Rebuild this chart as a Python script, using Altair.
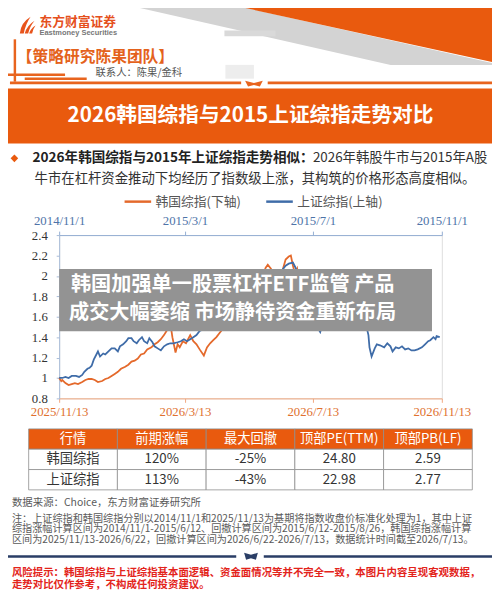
import re
import altair as alt
import pandas as pd

# ------------------------------------------------------------------ data
kr_dates = ["2025/11/13","2025/11/15","2025/11/16","2025/11/19","2025/11/22","2025/11/25","2025/11/28",
            "2025/12/1","2025/12/5","2025/12/8","2025/12/11","2025/12/14","2025/12/17","2025/12/20",
            "2025/12/24","2025/12/27","2025/12/30","2026/1/2","2026/1/5","2026/1/8","2026/1/11",
            "2026/1/15","2026/1/18","2026/1/21","2026/1/24","2026/1/27","2026/1/30","2026/2/2",
            "2026/2/5","2026/2/9","2026/2/12","2026/2/15","2026/2/18","2026/2/21","2026/2/24",
            "2026/2/26","2026/2/28","2026/3/1","2026/3/4","2026/3/6","2026/3/8","2026/3/11",
            "2026/3/14","2026/3/18","2026/3/21","2026/3/24","2026/3/27","2026/3/31","2026/4/3",
            "2026/4/6","2026/4/9","2026/4/12","2026/4/15","2026/4/18","2026/4/22","2026/4/25",
            "2026/4/28","2026/5/1","2026/5/4","2026/5/7","2026/5/10","2026/5/13","2026/5/17",
            "2026/5/20","2026/5/23","2026/5/26","2026/5/29","2026/5/31","2026/6/3","2026/6/7",
            "2026/6/10","2026/6/12","2026/6/14","2026/6/17","2026/6/20","2026/6/22","2026/6/24",
            "2026/6/26","2026/6/28","2026/6/30","2026/7/4","2026/7/7","2026/7/10","2026/7/13"]
kr_values = [1.00,0.97,0.98,0.95,0.93,0.94,0.95,0.94,0.96,0.98,0.99,0.99,0.98,0.96,0.97,0.99,1.00,
             1.02,1.04,1.06,1.09,1.11,1.13,1.16,1.17,1.19,1.23,1.24,1.28,1.30,1.33,1.35,1.38,1.42,
             1.47,1.52,1.47,1.40,1.25,1.33,1.30,1.36,1.34,1.42,1.36,1.33,1.28,1.22,1.30,1.34,1.37,
             1.40,1.44,1.48,1.54,1.58,1.63,1.70,1.75,1.82,1.85,1.80,1.84,1.90,1.95,2.00,2.08,2.11,
             2.07,1.97,1.81,1.92,2.05,2.16,2.19,2.20,2.10,2.02,2.07,1.95,1.85,1.80,1.72,1.65]

sh_dates = ["2014/11/1","2014/11/4","2014/11/7","2014/11/10","2014/11/13","2014/11/17","2014/11/20",
            "2014/11/23","2014/11/25","2014/11/28","2014/11/30","2014/12/2","2014/12/4","2014/12/7",
            "2014/12/8","2014/12/10","2014/12/13","2014/12/15","2014/12/18","2014/12/21","2014/12/24",
            "2014/12/27","2014/12/29","2015/1/1","2015/1/4","2015/1/6","2015/1/9","2015/1/11",
            "2015/1/14","2015/1/16","2015/1/19","2015/1/21","2015/1/24","2015/1/26","2015/1/29",
            "2015/1/31","2015/2/3","2015/2/6","2015/2/9","2015/2/12","2015/2/15","2015/2/18",
            "2015/2/22","2015/2/25","2015/2/28","2015/3/3","2015/3/6","2015/3/9","2015/3/12",
            "2015/3/15","2015/3/19","2015/3/22","2015/3/25","2015/3/28","2015/3/31","2015/4/6",
            "2015/4/13","2015/4/19","2015/4/25","2015/5/1","2015/5/8","2015/5/14","2015/5/20",
            "2015/5/25","2015/5/29","2015/6/2","2015/6/5","2015/6/8","2015/6/12","2015/6/14",
            "2015/6/17","2015/6/19","2015/6/22","2015/6/25","2015/6/28","2015/7/1","2015/7/4",
            "2015/7/8","2015/7/11","2015/7/15","2015/7/20","2015/7/25","2015/7/28","2015/7/31",
            "2015/8/3","2015/8/8","2015/8/13","2015/8/17","2015/8/20","2015/8/23","2015/8/24",
            "2015/8/26","2015/8/29","2015/8/31","2015/9/3","2015/9/7","2015/9/10","2015/9/13",
            "2015/9/15","2015/9/18","2015/9/21","2015/9/24","2015/9/27","2015/9/30","2015/10/3",
            "2015/10/6","2015/10/9","2015/10/13","2015/10/16","2015/10/19","2015/10/21",
            "2015/10/24","2015/10/26","2015/10/27","2015/10/30"]
sh_values = [1.00,1.00,1.01,1.00,1.02,1.02,1.01,1.03,1.06,1.09,1.10,1.12,1.18,1.24,1.26,1.21,1.24,
             1.23,1.26,1.29,1.29,1.26,1.31,1.33,1.36,1.39,1.39,1.36,1.34,1.37,1.40,1.36,1.34,1.39,
             1.35,1.31,1.29,1.27,1.31,1.33,1.34,1.34,1.35,1.36,1.38,1.36,1.38,1.40,1.42,1.46,1.48,
             1.50,1.52,1.54,1.56,1.62,1.70,1.76,1.82,1.86,1.80,1.90,1.98,2.03,1.98,2.06,2.10,2.12,
             2.13,2.09,2.02,1.94,1.85,1.78,1.70,1.62,1.52,1.45,1.55,1.60,1.58,1.55,1.53,1.50,1.54,
             1.57,1.62,1.65,1.55,1.42,1.30,1.21,1.29,1.33,1.32,1.30,1.34,1.31,1.26,1.30,1.29,1.31,
             1.28,1.29,1.27,1.27,1.28,1.30,1.33,1.36,1.37,1.40,1.38,1.41,1.40]

series_names = ["韩国综指(下轴)", "上证综指(上轴)"]
y_ticks = [0.8, 1.0, 1.2, 1.4, 1.6, 1.8, 2.0, 2.2, 2.4]
kr_ticks = [(2025, 11, 13), (2026, 3, 13), (2026, 7, 13), (2026, 11, 13)]
sh_ticks = [(2014, 11, 1), (2015, 3, 1), (2015, 7, 1), (2015, 11, 1)]

table_columns = ["行情", "前期涨幅", "最大回撤", "顶部PE(TTM)", "顶部PB(LF)"]
table_rows = ["韩国综指", "上证综指"]
rise = ["120%", "113%"]
drawdown = ["-25%", "-43%"]
top_pe = ["24.80", "22.98"]
top_pb = ["2.59", "2.77"]

title_text = "2026韩国综指与2015上证综指走势对比"
bullet_bold = "2026年韩国综指与2015年上证综指走势相似："
bullet_rest = "2026年韩股牛市与2015年A股"
bullet_line2 = "牛市在杠杆资金推动下均经历了指数级上涨，其构筑的价格形态高度相似。"
overlay_lines = ["韩国加强单一股票杠杆ETF监管 产品", "成交大幅萎缩 市场静待资金重新布局"]
source_text = "数据来源：Choice，东方财富证券研究所"
note_lines = ["注：上证综指和韩国综指分别以2014/11/1和2025/11/13为基期将指数收盘价标准化处理为1，其中上证",
              "综指涨幅计算区间为2014/11/1-2015/6/12、回撤计算区间为2015/6/12-2015/8/26，韩国综指涨幅计算",
              "区间为2025/11/13-2026/6/22，回撤计算区间为2026/6/22-2026/7/13，数据统计时间截至2026/7/13。"]
risk_lines = ["风险提示：韩国综指与上证综指基本面逻辑、资金面情况等并不完全一致，本图片内容呈现客观数据，",
              "走势对比仅作参考，不构成任何投资建议。"]

# ------------------------------------------------------------------ style
CJK = "Noto Sans CJK SC"
SERIF = "Liberation Serif"
ORANGE = "#E95A0E"
KR_COLOR = "#E4692B"
SH_COLOR = "#3F6CA8"
OX, OY = 60, 234          # plot origin in page pixels
W, H = 389, 166


def px(x):
    return x - OX


def py(y):
    return y - OY


one = pd.DataFrame({"k": [0]})


def text(t, x, y, size, color, weight="normal", align="left", font=CJK):
    return alt.Chart(one).mark_text(text=t, fontSize=size, color=color, fontWeight=weight,
                                    align=align, baseline="middle", font=font).encode(
        x=alt.value(px(x)), y=alt.value(py(y)))


def rect(x1, y1, x2, y2, color):
    return alt.Chart(one).mark_rect(color=color).encode(
        x=alt.value(px(x1)), x2=alt.value(px(x2)), y=alt.value(py(y1)), y2=alt.value(py(y2)))


def rule(x1, y1, x2, y2, color, w):
    return alt.Chart(one).mark_rule(color=color, strokeWidth=w).encode(
        x=alt.value(px(x1)), x2=alt.value(px(x2)), y=alt.value(py(y1)), y2=alt.value(py(y2)))


def shape(d, color):
    # path given in page pixels -> shift to plot-origin coordinates (size=4 => scale 1)
    def sub(m):
        return f"{float(m.group(1)) - OX:.1f},{float(m.group(2)) - OY:.1f}"
    d2 = re.sub(r"(-?\d+\.?\d*),(-?\d+\.?\d*)", sub, d)
    return alt.Chart(one).mark_point(shape=d2, size=4, filled=True, color=color, opacity=1,
                                     strokeWidth=0).encode(x=alt.value(0), y=alt.value(0))


def dt(t):
    return alt.DateTime(year=t[0], month=t[1], date=t[2])


# ------------------------------------------------------------------ line chart
kr_df = pd.DataFrame({"date": kr_dates, "value": kr_values, "series": series_names[0]})
sh_df = pd.DataFrame({"date": sh_dates, "value": sh_values, "series": series_names[1]})

color = alt.Color("series:N", scale=alt.Scale(domain=series_names, range=[KR_COLOR, SH_COLOR]),
                  legend=alt.Legend(orient="none", legendX=65, legendY=-49, direction="horizontal",
                                    title=None, symbolType="stroke", symbolSize=729,
                                    symbolStrokeWidth=2.5, labelFont=CJK, labelFontSize=13,
                                    labelColor="#555555", labelOffset=3, columnPadding=20,
                                    padding=0))

yenc = alt.Y("value:Q", scale=alt.Scale(domain=[0.8, 2.4], nice=False, zero=False),
             axis=alt.Axis(values=y_ticks, format="~g", labelFont=SERIF, labelFontSize=13,
                           labelColor="#333333", domainColor="#A8BCD8", tickColor="#A8BCD8",
                           tickSize=3, labelPadding=9, grid=False, title=None))

kr = alt.Chart(kr_df).mark_line(strokeWidth=1.8).encode(
    x=alt.X("date:T", scale=alt.Scale(domain=[dt(kr_ticks[0]), dt(kr_ticks[-1])]),
            axis=alt.Axis(orient="bottom", values=[dt(t) for t in kr_ticks], format="%Y/%-m/%-d",
                          labelFont=SERIF, labelFontSize=13, labelColor="#E0702E",
                          domainColor="#F2A77E", tickColor="#F2A77E", tickSize=4, labelPadding=3,
                          grid=False, title=None, labelFlush=False, labelOverlap=False)),
    y=yenc, color=color)

sh = alt.Chart(sh_df).mark_line(strokeWidth=1.8).encode(
    x=alt.X("date:T", scale=alt.Scale(domain=[dt(sh_ticks[0]), dt(sh_ticks[-1])]),
            axis=alt.Axis(orient="top", values=[dt(t) for t in sh_ticks], format="%Y/%-m/%-d",
                          labelFont=SERIF, labelFontSize=13, labelColor="#4E73A8",
                          domainColor="#93ADD2", tickColor="#93ADD2", tickSize=4, labelPadding=4,
                          grid=False, title=None, labelFlush=False, labelOverlap=False)),
    y=yenc, color=color)

lines = alt.layer(kr, sh).resolve_scale(x="independent")

# ------------------------------------------------------------------ table
row_keys = [table_columns[0]] + table_rows
records = [{"r": table_columns[0], "c": c, "t": c, "kind": "head"} for c in table_columns]
for i, name in enumerate(table_rows):
    vals = [name, rise[i], drawdown[i], top_pe[i], top_pb[i]]
    for c, v in zip(table_columns, vals):
        records.append({"r": name, "c": c, "t": v, "kind": "body"})
tdf = pd.DataFrame(records)

tx = alt.X("c:N", scale=alt.Scale(domain=table_columns, range=[px(29), px(480)],
                                  paddingInner=0, paddingOuter=0), axis=None)
ty = alt.Y("r:N", scale=alt.Scale(domain=row_keys, range=[py(431), py(493)],
                                  paddingInner=0, paddingOuter=0), axis=None)
is_head = "datum.kind == 'head'"
cells = alt.Chart(tdf).mark_rect(stroke="#8E8E8E", strokeWidth=0.8).encode(
    x=tx, y=ty, fill=alt.condition(is_head, alt.value(ORANGE), alt.value("white")))
cell_text = alt.Chart(tdf).mark_text(font=CJK, fontSize=13.5).encode(
    x=tx, y=ty, text="t:N",
    color=alt.condition(is_head, alt.value("white"), alt.value("#333333")))
table = alt.layer(cells, cell_text)

# ------------------------------------------------------------------ decoration / text
deco = [
    shape("M137,2 L245,2 L500,59 L500,61 L397,61 Z", "#D3D3D3"),
    shape("M244,2 L500,2 L500,58 Z", ORANGE),
    rect(228, 26, 280, 32, "#D9D9D9"),
    rect(229, 61, 258, 75, "#EDEDED"),
    shape("M20,29 Q21,18 31,12 Q26,19 24,29 Z", "#E8541C"),
    shape("M25,29 Q27,21 35,16 Q30,22 28.5,29 Z", "#E8541C"),
    shape("M29.5,29 Q31,24 36,21 Q33,25 32.5,29 Z", "#E8541C"),
    text("东方财富证券", 40, 17, 13, "#E5501C", weight="bold"),
    text("Eastmoney Securities", 40, 28.5, 7.6, "#777777", weight="bold", font="Liberation Sans"),
    rule(15, 35, 15, 78, "#E8641E", 2.5),
    rule(3, 71, 66, 71, "#E8641E", 2.5),
    rule(25, 75, 88, 75, "#E8641E", 2.5),
    rule(10, 79.3, 245, 79.3, "#E8641E", 3),
    rule(272, 79.3, 500, 79.3, "#E8641E", 3),
    shape("M249,77 L258,79.5 L267,77 L264,83 L258,81.5 L252,83 Z", "#E8641E"),
    text("【策略研究陈果团队】", 17, 53, 16, "#E4621C", weight="bold"),
    text("联系人：陈果/金科", 97, 69.5, 10.5, "#555555"),
    rect(0, 85, 500, 141, ORANGE),
    text(title_text, 254.5, 113.5, 21, "white", weight="bold", align="center"),
    alt.Chart(one).mark_point(shape="diamond", size=60, filled=True, color=ORANGE, opacity=1).encode(
        x=alt.value(px(14.5)), y=alt.value(py(156))),
    text(bullet_bold, 33, 156, 13.8, "#222222", weight="bold"),
    text(bullet_rest, 318, 156, 13.6, "#333333"),
    text(bullet_line2, 35, 177, 13.6, "#333333"),
]

overlay = [
    rect(60, 268.5, 439, 331.7, "#939393"),
    text(overlay_lines[0], 72, 285, 20.5, "white", weight="bold"),
    text(overlay_lines[1], 70, 313, 20.5, "white", weight="bold"),
]

notes = [text(source_text, 12, 506, 10.6, "#5A5A5A")]
for k, line in enumerate(note_lines):
    notes.append(text(line, 12, 522.5 + 10.8 * k, 10.3, "#5A5A5A"))
notes += [
    rule(0, 560.7, 240, 560.7, "#2A3E66", 2.5),
    rule(268, 560.7, 500, 560.7, "#2A3E66", 2.5),
    shape("M248,557 L255,559 L262,557 L260,564 L255,562.5 L250,564 Z", "#2A3E66"),
]
for k, line in enumerate(risk_lines):
    notes.append(text(line, 12, 577.3 + 12.2 * k, 10.6, "#E3241B", weight="bold"))

chart = alt.layer(*deco, lines, table, *overlay, *notes).resolve_scale(
    x="independent", y="independent"
).properties(
    width=W, height=H,
    padding={"left": 52, "top": 226, "right": 51, "bottom": 193},
    autosize=alt.AutoSizeParams(type="none"),
).configure_view(strokeWidth=0).configure(background="white")

chart.save("out.html", embed_options={"renderer": "svg", "actions": False})
